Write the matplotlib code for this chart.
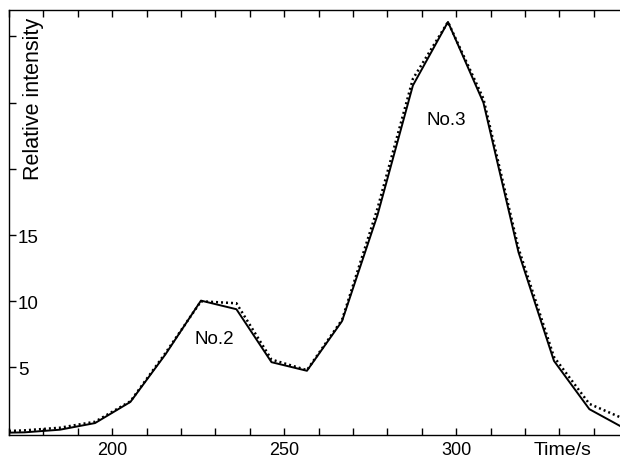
import matplotlib
matplotlib.use("Agg")
import matplotlib.pyplot as plt
from matplotlib.transforms import blended_transform_factory

plt.rcParams["font.family"] = ["Liberation Sans", "DejaVu Sans"]

# =========================
# Data
# =========================
time_s = [164.2, 174.5, 184.8, 195.0, 205.3, 215.5, 225.8, 236.1, 246.3,
          256.6, 266.8, 277.1, 287.4, 297.6, 307.9, 318.1, 328.4, 338.7, 348.9]
measured = [0.05, 0.1, 0.3, 0.8, 2.4, 6.0, 10.05, 9.4, 5.4,
            4.75, 8.5, 16.5, 26.3, 31.1, 25.0, 13.7, 5.5, 1.85, 0.4]
fitted = [0.15, 0.25, 0.45, 0.9, 2.45, 6.1, 10.0, 9.85, 5.6,
          4.8, 8.6, 17.0, 26.8, 31.1, 25.3, 14.0, 5.8, 2.25, 1.1]

yticks = [5, 10, 15, 20, 25, 30]
ytick_labels = ["5", "10", "15", "", "", ""]
xticks = list(range(170, 350, 10))
xtick_labels = ["200" if t == 200 else "250" if t == 250 else "300" if t == 300 else ""
                for t in xticks]

peaks = [("No.2", 229.6, 7.2), ("No.3", 297.2, 23.75)]


def main():
    fig = plt.figure(figsize=(6.2, 4.6), dpi=100)
    ax = fig.add_axes([9 / 620, 24 / 460, 611 / 620, 425 / 460])

    ax.plot(time_s, fitted, color="black", lw=1.8, linestyle=(0, (0.8, 1.2)))
    ax.plot(time_s, measured, color="black", lw=1.4)

    ax.set_xlim(170, 347.6)
    ax.set_ylim(-0.1, 32)

    ax.spines["right"].set_visible(False)
    for s in ("left", "top", "bottom"):
        ax.spines[s].set_linewidth(1.0)

    ax.set_xticks(xticks)
    ax.set_xticklabels(xtick_labels)
    ax.set_yticks(yticks)
    ax.set_yticklabels(ytick_labels)
    ax.tick_params(axis="x", direction="in", length=5, width=1.0,
                   top=True, labelsize=13, pad=4.5)
    ax.tick_params(axis="y", direction="in", length=5, width=1.0,
                   labelsize=13.5, pad=-6.5)
    for lab in ax.get_yticklabels():
        lab.set_horizontalalignment("left")

    # x axis title sits in line with the tick labels
    trans = blended_transform_factory(ax.transData, ax.transAxes)
    ax.annotate("Time/s", xy=(330.8, 0), xycoords=trans,
                xytext=(0, -4.5), textcoords="offset points",
                ha="center", va="top", fontsize=14)

    ax.text(0.040, 0.794, "Relative intensity", transform=ax.transAxes,
            rotation=90, ha="center", va="center", fontsize=15.5)

    for name, x, y in peaks:
        ax.text(x, y, name, ha="center", va="center", fontsize=13.5)

    fig.savefig("out.png", dpi=100)


if __name__ == "__main__":
    main()
